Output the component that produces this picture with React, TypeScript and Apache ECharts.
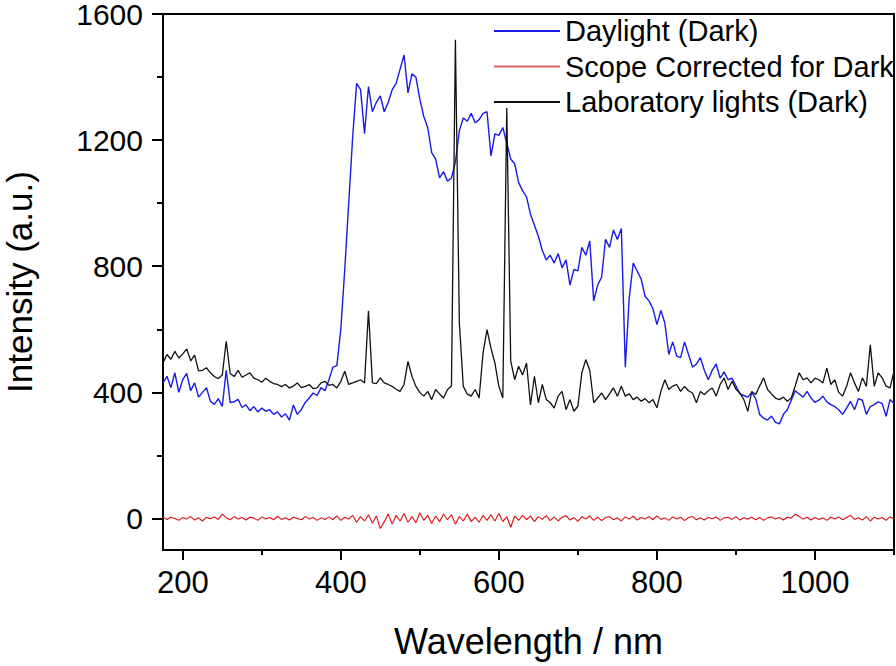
import React, { useEffect, useRef } from "react";
import * as echarts from "echarts";

// Sampling grid (nm)
const wavelengths: number[] = [
  175, 180, 185, 190, 195, 200, 205, 210, 215, 220,
  225, 230, 235, 240, 245, 250, 255, 260, 265, 270,
  275, 280, 285, 290, 295, 300, 305, 310, 315, 320,
  325, 330, 335, 340, 345, 350, 355, 360, 365, 370,
  375, 380, 385, 390, 395, 400, 405, 410, 415, 420,
  425, 430, 435, 440, 445, 450, 455, 460, 465, 470,
  475, 480, 485, 490, 495, 500, 505, 510, 515, 520,
  525, 530, 535, 540, 545, 550, 555, 560, 565, 570,
  575, 580, 585, 590, 595, 600, 605, 610, 615, 620,
  625, 630, 635, 640, 645, 650, 655, 660, 665, 670,
  675, 680, 685, 690, 695, 700, 705, 710, 715, 720,
  725, 730, 735, 740, 745, 750, 755, 760, 765, 770,
  775, 780, 785, 790, 795, 800, 805, 810, 815, 820,
  825, 830, 835, 840, 845, 850, 855, 860, 865, 870,
  875, 880, 885, 890, 895, 900, 905, 910, 915, 920,
  925, 930, 935, 940, 945, 950, 955, 960, 965, 970,
  975, 980, 985, 990, 995, 1000, 1005, 1010, 1015, 1020,
  1025, 1030, 1035, 1040, 1045, 1050, 1055, 1060, 1065, 1070,
  1075, 1080, 1085, 1090, 1095, 1100,
];

const daylightDark: number[] = [
  430, 451, 415, 462, 400, 440, 460, 405, 430, 385,
  400, 415, 372, 362, 380, 355, 470, 368, 370, 378,
  352, 360, 342, 355, 338, 350, 340, 345, 330, 338,
  322, 332, 312, 360, 330, 345, 368, 382, 398, 390,
  415, 405, 440, 480, 485, 600, 790, 1000, 1210, 1380,
  1360, 1220, 1370, 1290, 1320, 1340, 1290, 1320, 1360, 1380,
  1425, 1470, 1350, 1410, 1400, 1330, 1275, 1240, 1160, 1140,
  1080, 1100, 1070, 1080, 1130, 1230, 1270, 1260, 1285, 1255,
  1265, 1285, 1290, 1150, 1220, 1215, 1240, 1190, 1140, 1125,
  1065, 1040, 1020, 965, 930, 895, 850, 820, 835, 810,
  840, 795, 820, 740, 790, 785, 860, 835, 880, 690,
  740, 765, 885, 860, 915, 885, 920, 480, 700, 810,
  785, 760, 705, 690, 665, 615, 660, 620, 520, 560,
  515, 510, 560, 520, 480, 490, 510, 470, 440, 470,
  490, 445, 465, 440, 445, 420, 395, 390, 385, 400,
  380, 330, 318, 312, 325, 305, 300, 330, 345, 375,
  405, 395, 385, 403, 382, 368, 375, 388, 370, 361,
  355, 345, 330, 350, 372, 345, 380, 375, 330, 355,
  361, 370, 365, 324, 377, 365,
];

const scopeCorrected: number[] = [
  5, -3, 4, 0, -6, 3, -2, 6, -5, 2,
  -8, 4, -1, 5, -3, 14, 2, -4, 6, -2,
  3, -5, 4, 1, -6, 5, -2, 3, -4, 7,
  -3, 2, -5, 4, 0, -4, 6, -2, 3, -6,
  2, -3, 5, -4, 8, -6, 4, -2, 10, -12,
  6, -8, 12, -15, 8, -32, -10, 14, -18, 10,
  -8, 16, -12, 6, -14, 18, -6, 10, -16, 8,
  -10, 14, -4, 12, -18, 6, -8, 14, -10, 4,
  -12, 10, -6, 12, -8, 16, -10, 6, -28, 8,
  -6, 10, -4, 8, -10, 6, -3, 9, -7, 5,
  -8, 4, 9, -5, 3, -9, 6, -2, 8, -6,
  4, -7, 3, 6, -4, 2, -8, 5, -2, 7,
  -5, 3, -2, 6, -4, 8, -3, 2, -6, 5,
  -2, 4, -7, 3, 6, -4, 2, -5, 3, -1,
  5, -6, 2, 4, -3, 6, -5, 2, -2, 4,
  -4, 3, -6, 2, 5, -2, 3, -5, 4, 1,
  14, 6, -2, 4, -5, 3, -3, 2, -6, 4,
  -2, 5, -4, 3, 10, -3, 2, -5, 6, -8,
  4, -2, 3, -6, 5, -1,
];

const labLightsDark: number[] = [
  493, 520, 505, 530, 509, 522, 538, 500, 518, 468,
  470, 478, 462, 450, 444, 455, 562, 460, 450, 470,
  448, 455, 462, 445, 440, 432, 445, 435, 428, 425,
  418, 425, 414, 420, 430, 415, 419, 425, 412, 414,
  430, 435, 422, 425, 414, 435, 467, 425, 430, 435,
  440, 430, 659, 430, 428, 446, 430, 425, 419, 410,
  403, 425, 498, 451, 419, 400, 388, 403, 377, 409,
  395, 382, 409, 420, 1518, 620, 419, 395, 388, 409,
  382, 525, 599, 540, 493, 419, 382, 1302, 500, 440,
  483, 455, 493, 360, 451, 367, 425, 377, 367, 350,
  388, 403, 345, 377, 340, 356, 462, 504, 470, 367,
  382, 398, 377, 395, 414, 388, 419, 388, 395, 377,
  385, 372, 380, 367, 377, 351, 403, 440, 409, 420,
  425, 403, 419, 405, 398, 367, 403, 393, 405, 414,
  388, 425, 446, 409, 435, 410, 398, 377, 340, 403,
  393, 420, 446, 409, 395, 382, 377, 385, 372, 382,
  420, 462, 440, 446, 430, 445, 440, 430, 477, 425,
  440, 400, 388, 419, 462, 430, 403, 446, 419, 551,
  419, 462, 446, 420, 414, 467,
];

const seriesNames: string[] = [
  "Daylight (Dark)",
  "Scope Corrected for Dark",
  "Laboratory lights (Dark)",
];

const xMajorTicks: number[] = [200, 400, 600, 800, 1000];
const xMinorTicks: number[] = [300, 500, 700, 900, 1100];
const yMajorTicks: number[] = [0, 400, 800, 1200, 1600];
const yMinorTicks: number[] = [200, 600, 1000, 1400];

const FONT = "'Liberation Sans', Arial, Helvetica, sans-serif";

function pairs(values: number[]): number[][] {
  return wavelengths.map((w, i) => [w, values[i]]);
}

const plain = (v: number) => String(v);

export default function App() {
  const ref = useRef<HTMLDivElement>(null);

  useEffect(() => {
    if (!ref.current) return;
    const chart = echarts.init(ref.current, undefined, { renderer: "svg" });
    const black = "#000";
    const option: any = {
      animation: false,
      backgroundColor: "#fff",
      textStyle: { fontFamily: FONT },
      grid: {
        left: 163,
        right: 2,
        top: 14,
        bottom: 116,
        show: true,
        borderColor: black,
        borderWidth: 2,
        backgroundColor: "transparent",
        containLabel: false,
        outerBoundsMode: "none",
      },
      legend: {
        orient: "vertical",
        left: 494,
        top: 16,
        padding: 0,
        itemWidth: 66,
        itemHeight: 2,
        itemGap: 5.5,
        icon: "rect",
        textStyle: { fontSize: 29, color: black, lineHeight: 30, fontFamily: FONT },
        data: [
          { name: seriesNames[0], itemStyle: { color: "#1a1ae6" } },
          { name: seriesNames[1], itemStyle: { color: "#d86868" } },
          { name: seriesNames[2], itemStyle: { color: "#111" } },
        ],
      },
      xAxis: [
        {
          type: "value",
          min: 175,
          max: 1100,
          position: "bottom",
          name: "Wavelength / nm",
          nameLocation: "middle",
          nameGap: 73,
          nameTextStyle: { fontSize: 36, color: black, fontFamily: FONT },
          axisLine: { show: true, onZero: false, lineStyle: { color: black, width: 2 } },
          axisTick: { show: true, customValues: xMajorTicks, length: 10, lineStyle: { color: black, width: 2 } },
          axisLabel: { show: true, customValues: xMajorTicks, formatter: plain, fontSize: 31, color: black, margin: 17, fontFamily: FONT },
          splitLine: { show: false },
        },
        {
          type: "value",
          min: 175,
          max: 1100,
          position: "bottom",
          axisLine: { show: false, onZero: false },
          axisTick: { show: true, customValues: xMinorTicks, length: 5, lineStyle: { color: black, width: 2 } },
          axisLabel: { show: false },
          splitLine: { show: false },
        },
      ],
      yAxis: [
        {
          type: "value",
          min: -100,
          max: 1600,
          position: "left",
          name: "Intensity (a.u.)",
          nameLocation: "middle",
          nameGap: 127,
          nameTextStyle: { fontSize: 35, color: black, fontFamily: FONT, lineHeight: 34 },
          axisLine: { show: true, onZero: false, lineStyle: { color: black, width: 2 } },
          axisTick: { show: true, customValues: yMajorTicks, length: 11, lineStyle: { color: black, width: 2 } },
          axisLabel: { show: true, customValues: yMajorTicks, formatter: plain, fontSize: 30, lineHeight: 22, color: black, margin: 20, fontFamily: FONT },
          splitLine: { show: false },
        },
        {
          type: "value",
          min: -100,
          max: 1600,
          position: "left",
          axisLine: { show: false, onZero: false },
          axisTick: { show: true, customValues: yMinorTicks, length: 6, lineStyle: { color: black, width: 2 } },
          axisLabel: { show: false },
          splitLine: { show: false },
        },
      ],
      series: [
        {
          name: seriesNames[0],
          type: "line",
          data: pairs(daylightDark),
          symbol: "none",
          color: "#1a1ae6",
          lineStyle: { color: "#1a1ae6", width: 1.4 },
          xAxisIndex: 0,
          yAxisIndex: 0,
        },
        {
          name: seriesNames[1],
          type: "line",
          data: pairs(scopeCorrected),
          symbol: "none",
          color: "#e01010",
          lineStyle: { color: "#e01010", width: 1.1 },
          xAxisIndex: 0,
          yAxisIndex: 0,
        },
        {
          name: seriesNames[2],
          type: "line",
          data: pairs(labLightsDark),
          symbol: "none",
          color: "#111",
          lineStyle: { color: "#111", width: 1.3 },
          xAxisIndex: 0,
          yAxisIndex: 0,
        },
      ],
    };
    chart.setOption(option);
    return () => chart.dispose();
  }, []);

  return (
    <div
      ref={ref}
      style={{ position: "fixed", left: 0, top: 0, width: 896, height: 666, background: "#fff" }}
    />
  );
}
